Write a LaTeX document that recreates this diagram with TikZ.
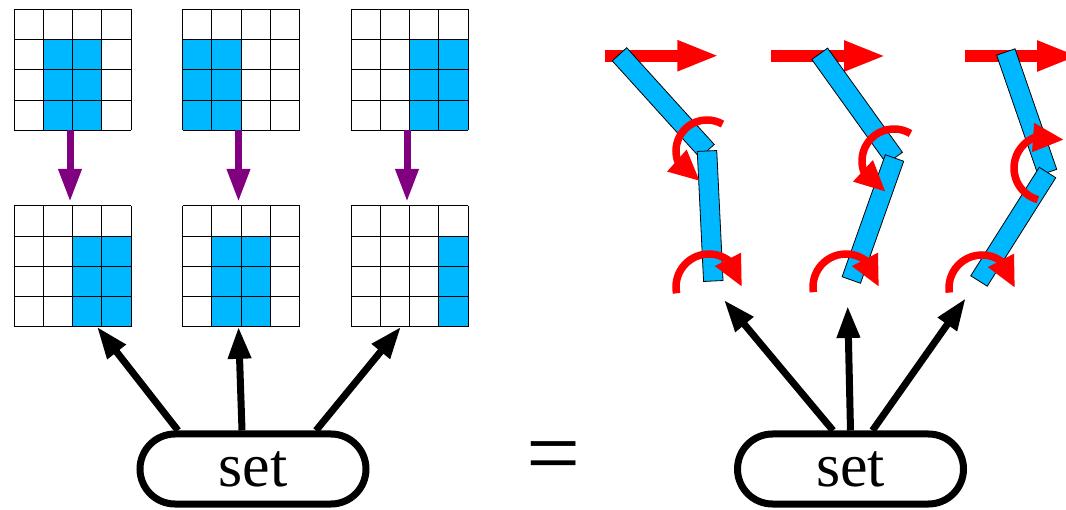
\documentclass[tikz,border=0pt]{standalone}
\usepackage{fontspec}
\setmainfont{Liberation Serif}
\usetikzlibrary{calc,arrows.meta,bending}

\definecolor{linkblue}{RGB}{0,184,255}
\definecolor{shiftpurple}{RGB}{128,0,128}

\tikzset{
  cell/.style={draw=black, line width=0.8pt},
  gridbox/.style={minimum width=117pt, minimum height=121pt, inner sep=0pt, outer sep=0pt},
  shift arrow/.style={line width=7pt, shiftpurple, -{Triangle[length=33pt,width=22pt]}},
  set arrow/.style={line width=7pt, black, -{Triangle[length=32pt,width=22pt]}},
  push arrow/.style={line width=12pt, red, -{Triangle[length=42pt,width=28pt]}},
  turn arrow/.style={line width=7.5pt, red, -{Triangle[length=31pt,width=27pt,flex]}},
  setbox/.style={draw, line width=7pt, rounded corners=35pt, minimum width=226pt,
    minimum height=70pt, inner sep=0pt, font=\fontsize{62}{62}\selectfont},
  link/.style={draw=black, line width=0.8pt, fill=linkblue},
}

% 4x4 grid: name, centre x, centre y, filled cells as col/row
\newcommand\cellgrid[4]{%
  \node[gridbox] (#1) at (#2,#3) {};
  \foreach \c/\r in {#4}
    \fill[linkblue] ($(#1.north west)+(\c*29.25,-\r*30.25)$) rectangle ++(29.25,-30.25);
  \foreach \i in {0,...,4} {
    \draw[cell] ($(#1.north west)+(\i*29.25,0)$) -- ++(0,-121);
    \draw[cell] ($(#1.north west)+(0,-\i*30.25)$) -- ++(117,0);
  }
}

% one arm segment between two joints
\newcommand\armlink[2]{%
  \draw[link] ($(#1)!9.75pt!90:(#2)$) -- ($(#2)!9.75pt!-90:(#1)$)
    -- ($(#2)!9.75pt!90:(#1)$) -- ($(#1)!9.75pt!-90:(#2)$) -- cycle;
}

\begin{document}
\begin{tikzpicture}[x=1pt,y=1pt]
\useasboundingbox (0,0) rectangle (1066,509);

% grids before and after the shift
\cellgrid{gT1}{72.5}{439.3}{1/1,2/1,1/2,2/2,1/3,2/3}
\cellgrid{gT2}{241}{439.3}{0/1,1/1,0/2,1/2,0/3,1/3}
\cellgrid{gT3}{409.5}{439.3}{2/1,3/1,2/2,3/2,2/3,3/3}
\cellgrid{gB1}{72.5}{242.7}{2/1,3/1,2/2,3/2,2/3,3/3}
\cellgrid{gB2}{241}{242.7}{1/1,2/1,1/2,2/2,1/3,2/3}
\cellgrid{gB3}{409.5}{242.7}{3/1,3/2,3/3}

\draw[shift arrow] ([xshift=-2.5pt]gT1.south) -- ([xshift=-2.5pt,yshift=4pt]gB1.north);
\draw[shift arrow] ([xshift=-2.5pt]gT2.south) -- ([xshift=-2.5pt,yshift=4pt]gB2.north);
\draw[shift arrow] ([xshift=-2.5pt]gT3.south) -- ([xshift=-2.5pt,yshift=4pt]gB3.north);

% the two sets
\node[setbox] (setL) at (253,40) {set};
\node[setbox] (setR) at (850.5,40) {set};
\node[font=\fontsize{96}{96}\selectfont] (eq) at (554,45) {=};

\draw[set arrow] ([xshift=-75pt]setL.north) -- ([xshift=24.5pt]gB1.south);
\draw[set arrow] ([xshift=-11pt]setL.north) -- ([xshift=-2.5pt]gB2.south);
\draw[set arrow] ([xshift=63pt]setL.north) -- ([xshift=-8.5pt]gB3.south);

% arms
\coordinate (s1) at (619.5,454.7); \coordinate (e1) at (707,358);    \coordinate (w1) at (713.3,228);
\coordinate (s2) at (819.7,455.2); \coordinate (e2) at (894.5,351);  \coordinate (w2) at (851.3,229);
\coordinate (s3) at (1005.8,457);  \coordinate (e3) at (1047.5,336.5); \coordinate (w3) at (979,228);

\coordinate (p1) at (605,453.3); \coordinate (q1) at (719.3,453.3);
\coordinate (p2) at (771,453);   \coordinate (q2) at (886,453);
\coordinate (p3) at (965,453);   \coordinate (q3) at (1079,453);
\draw[push arrow] (p1) -- (q1);
\draw[push arrow] (p2) -- (q2);
\draw[push arrow] (p3) -- (q3);

\armlink{s1}{e1} \armlink{e1}{w1}
\armlink{s2}{e2} \armlink{e2}{w2}
\armlink{s3}{e3} \armlink{e3}{w3}

% joint turns
\coordinate (j1) at (707,358);  \coordinate (b1) at (709,222);
\coordinate (j2) at (894,348);  \coordinate (b2) at (846,222);
\coordinate (j3) at (1047,341); \coordinate (b3) at (982,221);
\draw[turn arrow] (j1) ++(60:31) arc[start angle=60, end angle=257, radius=31];
\draw[turn arrow] (b1) ++(191:33) arc[start angle=191, end angle=0, radius=33];
\draw[turn arrow] (j2) ++(59:32) arc[start angle=59, end angle=255, radius=32];
\draw[turn arrow] (b2) ++(189:33) arc[start angle=189, end angle=0, radius=33];
\draw[turn arrow] (j3) ++(254:33) arc[start angle=254, end angle=59, radius=33];
\draw[turn arrow] (b3) ++(188:33) arc[start angle=188, end angle=0, radius=33];

\coordinate (t1) at (724,209);
\coordinate (t2) at (847.7,203);
\coordinate (t3) at (965.7,210.7);
\draw[set arrow] ([xshift=-17.5pt]setR.north) -- (t1);
\draw[set arrow] (setR.north) -- (t2);
\draw[set arrow] ([xshift=22pt]setR.north) -- (t3);

\end{tikzpicture}
\end{document}
